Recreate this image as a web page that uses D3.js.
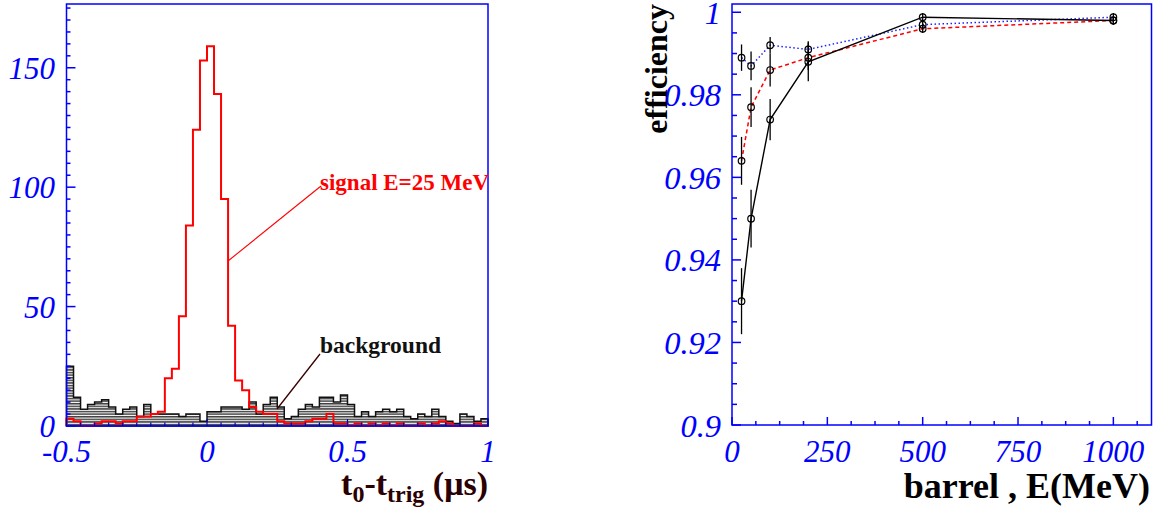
<!DOCTYPE html>
<html><head><meta charset="utf-8">
<script src="https://cdn.jsdelivr.net/npm/d3@7"></script>
<style>body{margin:0;background:#fff}svg{display:block}</style>
</head><body>
<svg id="c" width="1165" height="516"></svg>
<script>
// ---------- data ----------
const histRange = [-0.5, 1.0];
const binWidth = 0.025;
const signalCounts = [3,2,0,0,1,2,2,1,2,2,4,4,5,6,20,24,46,84,124,153,159,139,95,42,19,15,8,6,5,5,2,1,1,1,2,3,3,5,1,1,0,1,0,1,0,1,0,1,0,0,1,0,1,2,1,0,0,0,1,0];
const backgroundCounts = [25,12,7,9,10,11,8,5,7,8,4,9,5,5,5,5,4,5,5,2,6,6,8,8,8,7,10,5,9,12,8,3,4,7,9,8,12,12,10,13,9,4,6,4,6,7,6,7,4,3,5,4,7,4,2,1,5,4,2,3];
const leftYTicks = [0,50,100,150];
const leftXTicks = [-0.5,0,0.5,1];

const energies = [25,50,100,200,500,1000];
const effBlack = [0.930,0.950,0.974,0.988,0.9988,0.998];
const errBlack = [0.008,0.007,0.005,0.0047,0.001,0.001];
const effRed   = [0.964,0.977,0.986,0.989,0.996,0.998];
const errRed   = [0.0058,0.0048,0.004,0.003,0.001,0.001];
const effBlue  = [0.989,0.987,0.992,0.991,0.997,0.9988];
const errBlue  = [0.0032,0.0035,0.002,0.002,0.001,0.001];
const rightXTicks = [0,250,500,750,1000];
const rightYTicks = [0.9,0.92,0.94,0.96,0.98,1];
const rightYLabels = ["0.9","0.92","0.94","0.96","0.98","1"];

const BLUE = "#0000ff";
const svg = d3.select("#c");
svg.append("rect").attr("width",1165).attr("height",516).attr("fill","#fff");

// hatch pattern
const defs = svg.append("defs");
const pat = defs.append("pattern").attr("id","hatch").attr("patternUnits","userSpaceOnUse")
  .attr("width",8).attr("height",2.6);
pat.append("rect").attr("width",8).attr("height",2.6).attr("fill","#fff");
pat.append("rect").attr("width",8).attr("height",1.5).attr("fill","#404040");

// ---------- left panel ----------
const xL = d3.scaleLinear().domain(histRange).range([66.5,488]);
const yL = d3.scaleLinear().domain([0,176.7]).range([426,4]);

function stepPath(counts){
  let p = `M${xL(histRange[0])},${yL(0)}`;
  counts.forEach((c,i)=>{
    const a = histRange[0]+i*binWidth, b = a+binWidth;
    p += `L${xL(a)},${yL(c)}L${xL(b)},${yL(c)}`;
  });
  p += `L${xL(histRange[1])},${yL(0)}`;
  return p;
}
svg.append("path").attr("d",stepPath(backgroundCounts)+"Z").attr("fill","url(#hatch)")
  .attr("stroke","#111").attr("stroke-width",1.5).attr("stroke-linejoin","miter");
svg.append("path").attr("d",stepPath(signalCounts)).attr("fill","none")
  .attr("stroke","#ff0000").attr("stroke-width",2);

// frame
svg.append("rect").attr("x",xL.range()[0]).attr("y",yL.range()[1])
  .attr("width",xL.range()[1]-xL.range()[0]).attr("height",yL.range()[0]-yL.range()[1])
  .attr("fill","none").attr("stroke",BLUE).attr("stroke-width",1.5);

// left ticks
const gL = svg.append("g");
d3.range(0,176,5).forEach(v=>{
  const big = v%50===0;
  gL.append("line").attr("x1",xL(-0.5)).attr("x2",xL(-0.5)+(big?9:4))
    .attr("y1",yL(v)).attr("y2",yL(v)).attr("stroke",BLUE).attr("stroke-width",1.5);
});
d3.range(-0.5,1.0001,0.05).forEach(v=>{
  const big = Math.abs(Math.round(v*100))%50===0;
  gL.append("line").attr("x1",xL(v)).attr("x2",xL(v))
    .attr("y1",yL(0)).attr("y2",yL(0)-(big?7:3.5)).attr("stroke","#0000aa").attr("stroke-width",1.2);
});
const tickFont = {"font-family":"'Liberation Serif', 'Times New Roman', serif","font-style":"italic","font-size":"31px","fill":BLUE};
function applyAttrs(sel, o){ Object.entries(o).forEach(([k,v])=>sel.attr(k,v)); return sel; }
leftYTicks.forEach(v=>{
  applyAttrs(svg.append("text"),tickFont).attr("x",55).attr("y",yL(v)+11)
    .attr("text-anchor","end").text(v);
});
leftXTicks.forEach(v=>{
  applyAttrs(svg.append("text"),tickFont).attr("x",xL(v)).attr("y",462)
    .attr("text-anchor","middle").text(v===-0.5?"-0.5":v);
});
// x title
const tt = svg.append("text").attr("x",488).attr("y",495).attr("text-anchor","end")
  .attr("font-family","'Liberation Serif', serif").attr("font-weight","bold").attr("font-size","34px").attr("fill","#2a0000");
tt.append("tspan").text("t");
tt.append("tspan").attr("font-size","24px").attr("dy",7).text("0");
tt.append("tspan").attr("dy",-7).text("-t");
tt.append("tspan").attr("font-size","24px").attr("dy",7).text("trig");
tt.append("tspan").attr("dy",-7).text(" (\u03bcs)");

// annotations
svg.append("line").attr("x1",321).attr("y1",186).attr("x2",228).attr("y2",261)
  .attr("stroke","#ff0000").attr("stroke-width",1.1);
svg.append("text").attr("x",320).attr("y",190).attr("font-family","'Liberation Serif', serif")
  .attr("font-weight","bold").attr("font-size","23px").attr("fill","#ff0000").text("signal E=25 MeV");
svg.append("line").attr("x1",320).attr("y1",354).attr("x2",277).attr("y2",409)
  .attr("stroke","#3a0000").attr("stroke-width",1.3);
svg.append("text").attr("x",320).attr("y",353).attr("font-family","'Liberation Serif', serif")
  .attr("font-weight","bold").attr("font-size","23.5px").attr("fill","#111").text("background");

// ---------- right panel ----------
const xR = d3.scaleLinear().domain([0,1100]).range([732,1151.5]);
const yR = d3.scaleLinear().domain([0.9,1.002]).range([425,4]);

svg.append("rect").attr("x",xR.range()[0]).attr("y",yR.range()[1])
  .attr("width",xR.range()[1]-xR.range()[0]).attr("height",yR.range()[0]-yR.range()[1])
  .attr("fill","none").attr("stroke",BLUE).attr("stroke-width",1.5);

d3.range(0,1100,62.5).forEach(v=>{
  const big = v%250===0;
  svg.append("line").attr("x1",xR(v)).attr("x2",xR(v)).attr("y1",yR(0.9)).attr("y2",yR(0.9)-(big?8:4))
    .attr("stroke",BLUE).attr("stroke-width",1.5);
});
d3.range(0,21).forEach(i=>{
  const v = 0.9+i*0.005;
  const big = i%4===0;
  svg.append("line").attr("x1",xR(0)).attr("x2",xR(0)+(big?9:5)).attr("y1",yR(v)).attr("y2",yR(v))
    .attr("stroke",BLUE).attr("stroke-width",1.5);
});
rightYTicks.forEach((v,i)=>{
  applyAttrs(svg.append("text"),tickFont).attr("font-size","32.5px").attr("x",721).attr("y",yR(v)+11.5)
    .attr("text-anchor","end").text(rightYLabels[i]);
});
rightXTicks.forEach(v=>{
  applyAttrs(svg.append("text"),tickFont).attr("x",xR(v)).attr("y",462)
    .attr("text-anchor","middle").text(v);
});
svg.append("text").attr("x",1150).attr("y",498).attr("text-anchor","end")
  .attr("font-family","'Liberation Serif', serif").attr("font-weight","bold").attr("font-size","36px")
  .attr("fill","#000").text("barrel , E(MeV)");
svg.append("text").attr("transform","translate(667,4) rotate(-90)").attr("text-anchor","end")
  .attr("font-family","'Liberation Serif', serif").attr("font-weight","bold").attr("font-size","32px")
  .attr("fill","#000").text("efficiency");

const line = d3.line().x((d,i)=>xR(energies[i])).y(d=>yR(d));
function series(vals, errs, color, dash, width){
  svg.append("path").attr("d",line(vals)).attr("fill","none").attr("stroke",color)
    .attr("stroke-width",width).attr("stroke-dasharray",dash);
  vals.forEach((v,i)=>{
    svg.append("line").attr("x1",xR(energies[i])).attr("x2",xR(energies[i]))
      .attr("y1",yR(v-errs[i])).attr("y2",yR(v+errs[i])).attr("stroke","#000").attr("stroke-width",1.3);
  });
}
series(effBlue, errBlue, "#2020ff", "1.5,2.5", 1.5);
series(effRed, errRed, "#ff0000", "4,3", 1.5);
series(effBlack, errBlack, "#000", null, 1.4);
[effBlue,effRed,effBlack].forEach(vals=>{
  vals.forEach((v,i)=>{
    svg.append("circle").attr("cx",xR(energies[i])).attr("cy",yR(v)).attr("r",3.3)
      .attr("fill","none").attr("stroke","#000").attr("stroke-width",1.2);
  });
});
</script>
</body></html>
